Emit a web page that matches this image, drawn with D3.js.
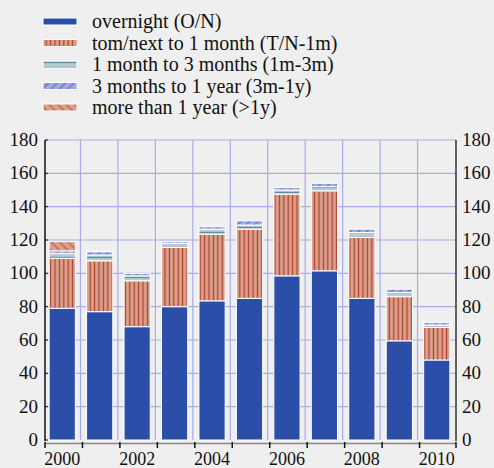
<!DOCTYPE html>
<html>
<head>
<meta charset="utf-8">
<script src="https://cdn.jsdelivr.net/npm/d3@7"></script>
<style>
  body { margin: 0; background: #efefef; }
  svg { display: block; }
</style>
</head>
<body>
<div id="viz"></div>
<script>
const width = 494;
const height = 468;

// Data
const years = ["2000","2001","2002","2003","2004","2005","2006","2007","2008","2009","2010"];
const overnight = [79, 77, 68, 80, 83.5, 85, 98.5, 101.5, 85, 59.5, 48];
const tomNext1m = [30, 30.5, 27.5, 35.5, 40, 41.5, 49, 48, 36.5, 26.5, 19.5];
const m1to3m = [3, 3.5, 3, 2.5, 3, 2.5, 2.5, 2.5, 3, 2.5, 1.5];
const m3to1y = [1.5, 2, 1.5, 1, 1.5, 2.5, 1.5, 2, 2, 2, 1.5];
const over1y = [5.5, 0.5, 0, 0, 0, 0, 0, 0, 0, 0, 0];
const seriesLabels = [
  "overnight (O/N)",
  "tom/next to 1 month (T/N-1m)",
  "1 month to 3 months (1m-3m)",
  "3 months to 1 year (3m-1y)",
  "more than 1 year (>1y)"
];
const yTicks = [0, 20, 40, 60, 80, 100, 120, 140, 160, 180];
const xLabels = ["2000", "2002", "2004", "2006", "2008", "2010"];

const keys = ["on", "tn", "m13", "m31y", "y1"];
const table = years.map((y, i) => ({
  year: y, on: overnight[i], tn: tomNext1m[i], m13: m1to3m[i], m31y: m3to1y[i], y1: over1y[i]
}));

const svg = d3.select("#viz")
  .append("svg")
  .attr("width", width)
  .attr("height", height);

svg.append("rect").attr("width", width).attr("height", height).attr("fill", "#efefef");

// patterns
const defs = svg.append("defs");

const pTn = defs.append("pattern").attr("id", "p-tn")
  .attr("patternUnits", "userSpaceOnUse").attr("width", 4.4).attr("height", 10);
pTn.append("rect").attr("width", 4.4).attr("height", 10).attr("fill", "#d9a28d");
pTn.append("line").attr("x1", 2.2).attr("x2", 2.2).attr("y1", 0).attr("y2", 10)
  .attr("stroke", "#b5402f").attr("stroke-width", 1.3);

const pM13 = defs.append("pattern").attr("id", "p-m13")
  .attr("patternUnits", "userSpaceOnUse").attr("width", 10).attr("height", 5);
pM13.append("rect").attr("width", 10).attr("height", 5).attr("fill", "#b9cdd4");
pM13.append("line").attr("x1", 0).attr("x2", 10).attr("y1", 2.5).attr("y2", 2.5)
  .attr("stroke", "#5e919b").attr("stroke-width", 1.3);

const pM31 = defs.append("pattern").attr("id", "p-m31")
  .attr("patternUnits", "userSpaceOnUse").attr("width", 6).attr("height", 6)
  .attr("patternTransform", "rotate(45)");
pM31.append("rect").attr("width", 6).attr("height", 6).attr("fill", "#a3a9e2");
pM31.append("line").attr("x1", 3).attr("x2", 3).attr("y1", 0).attr("y2", 6)
  .attr("stroke", "#4d5fc4").attr("stroke-width", 1);

const pY1 = defs.append("pattern").attr("id", "p-y1")
  .attr("patternUnits", "userSpaceOnUse").attr("width", 6).attr("height", 6)
  .attr("patternTransform", "rotate(-45)");
pY1.append("rect").attr("width", 6).attr("height", 6).attr("fill", "#d9a08c");
pY1.append("line").attr("x1", 3).attr("x2", 3).attr("y1", 0).attr("y2", 6)
  .attr("stroke", "#b44c40").attr("stroke-width", 1);

const fills = {
  on: "#2b4fa8",
  tn: "url(#p-tn)",
  m13: "url(#p-m13)",
  m31y: "url(#p-m31)",
  y1: "url(#p-y1)"
};

// scales
const x = d3.scaleBand()
  .domain(years)
  .range([43.5, 455.5])
  .paddingInner(0.3)
  .paddingOuter(0.15);

const y = d3.scaleLinear()
  .domain([0, 180])
  .range([440, 140]);

const left = 45, right = 456;
const step = x.step();
const gridXs = years.slice(0, -1).map(d => x(d) + x.bandwidth() + (step - x.bandwidth()) / 2 - 0.5);

// grid
const grid = svg.append("g").attr("stroke", "#a9ace8").attr("stroke-width", 1.2);
grid.selectAll(".h").data(yTicks.filter(t => t > 0)).join("line")
  .attr("x1", left).attr("x2", right)
  .attr("y1", d => y(d)).attr("y2", d => y(d));
grid.selectAll(".v").data(gridXs).join("line")
  .attr("x1", d => d).attr("x2", d => d)
  .attr("y1", y(180)).attr("y2", y(0));

// stacked bars
const stacked = d3.stack().keys(keys)(table);
svg.append("g").selectAll("g").data(stacked).join("g")
  .attr("fill", s => fills[s.key])
  .selectAll("rect").data(s => s.filter(d => d[1] - d[0] > 0)).join("rect")
  .attr("x", d => x(d.data.year))
  .attr("width", x.bandwidth())
  .attr("y", d => y(d[1]))
  .attr("height", d => y(d[0]) - y(d[1]))
  .attr("stroke", "#ffffff")
  .attr("stroke-width", 1);

// axes lines
svg.append("line").attr("x1", left).attr("x2", left).attr("y1", y(180)).attr("y2", y(0) + 1)
  .attr("stroke", "#111").attr("stroke-width", 1.5);
svg.append("line").attr("x1", right).attr("x2", right).attr("y1", y(180)).attr("y2", y(0) + 1)
  .attr("stroke", "#333").attr("stroke-width", 1.5);

// bottom axis
svg.append("line").attr("x1", left).attr("x2", right).attr("y1", 443.5).attr("y2", 443.5)
  .attr("stroke", "#888").attr("stroke-width", 1.5);
const tickXs = [left].concat(gridXs.map(d => d + 2)).concat([right]);
svg.append("g").selectAll("line").data(tickXs).join("line")
  .attr("x1", d => d).attr("x2", d => d)
  .attr("y1", 442).attr("y2", 448)
  .attr("stroke", "#111").attr("stroke-width", 1.5);

// left tick marks
svg.append("g").selectAll("line").data(yTicks).join("line")
  .attr("x1", left).attr("x2", left + 3)
  .attr("y1", d => y(d)).attr("y2", d => y(d))
  .attr("stroke", "#111").attr("stroke-width", 1);

// y labels
const font = "'Liberation Serif', 'Times New Roman', Tinos, 'DejaVu Serif', serif";
svg.append("g").selectAll("text").data(yTicks).join("text")
  .attr("x", 38).attr("y", d => y(d) + 6)
  .attr("text-anchor", "end")
  .attr("font-family", font).attr("font-size", 19).attr("fill", "#111")
  .text(d => d);
svg.append("g").selectAll("text").data(yTicks).join("text")
  .attr("x", 462).attr("y", d => y(d) + 6)
  .attr("text-anchor", "start")
  .attr("font-family", font).attr("font-size", 19).attr("fill", "#111")
  .text(d => d);

// x labels
svg.append("g").selectAll("text").data(xLabels).join("text")
  .attr("x", d => x(d) + x.bandwidth() / 2)
  .attr("y", 465)
  .attr("text-anchor", "middle")
  .attr("font-family", font).attr("font-size", 18).attr("fill", "#111")
  .text(d => d);

// legend
const legend = svg.append("g");
keys.forEach((k, i) => {
  const ly = 18 + i * 21.5;
  legend.append("rect")
    .attr("x", 43).attr("y", ly).attr("width", 34).attr("height", 7)
    .attr("fill", fills[k]).attr("stroke", "#ffffff").attr("stroke-width", 1);
  legend.append("text")
    .attr("x", 92).attr("y", ly + 10)
    .attr("font-family", font).attr("font-size", 20).attr("fill", "#111")
    .text(seriesLabels[i]);
});
</script>
</body>
</html>
